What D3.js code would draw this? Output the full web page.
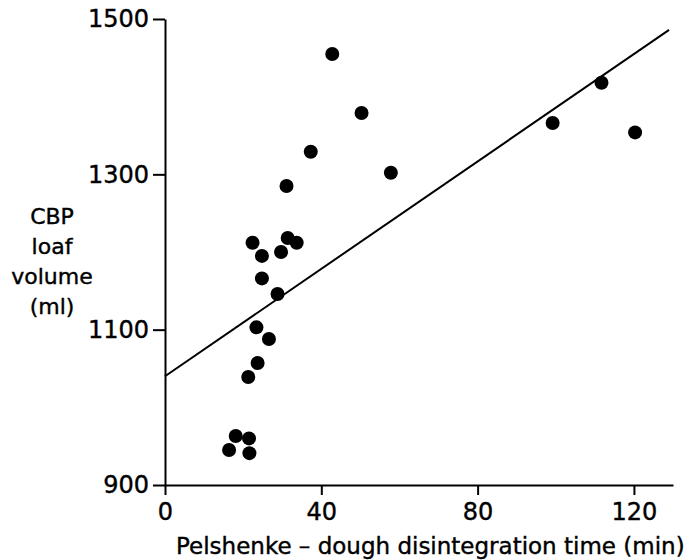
<!DOCTYPE html>
<html>
<head>
<meta charset="utf-8">
<script src="https://cdn.jsdelivr.net/npm/d3@7"></script>
<style>
  body { margin: 0; background: #fff; }
  text { font-family: "DejaVu Sans", sans-serif; fill: #000; stroke: #000; stroke-width: 0.4px; }
</style>
</head>
<body>
<div id="chart"></div>
<script>
// Pelshenke time (min) vs CBP loaf volume (ml)
var timeMin = [16.4, 18.1, 21.5, 21.6, 21.3, 23.7, 23.4, 26.6, 28.8, 24.8, 24.8, 22.4,
               29.7, 31.4, 33.7, 31.1, 37.3, 42.8, 50.3, 57.8, 99.2, 111.7, 120.3];
var loafVolume = [945, 963, 960, 941, 1039, 1057, 1103, 1088, 1146, 1166, 1195, 1212,
                  1200, 1218, 1212, 1285, 1329, 1455, 1379, 1302, 1366, 1418, 1354];

// fitted line end points
var fitTime = [0, 129];
var fitVolume = [1040, 1486];

var xTicks = [0, 40, 80, 120];
var yTicks = [900, 1100, 1300, 1500];
var yLabelLines = ["CBP", "loaf", "volume", "(ml)"];
var xLabel = "Pelshenke \u2013 dough disintegration time (min)";

var width = 693,
    height = 560;

var svg = d3.select("#chart").append("svg")
    .attr("width", width)
    .attr("height", height);

var x = d3.scaleLinear().domain([0, 130]).range([165, 673]);
var y = d3.scaleLinear().domain([900, 1500]).range([485, 19]);

// axes
var xAxis = svg.append("g")
    .attr("transform", "translate(0," + y(900) + ")")
    .call(d3.axisBottom(x).tickValues(xTicks).tickFormat(d3.format("d"))
        .tickSize(10).tickSizeOuter(0).tickPadding(8));

var yAxis = svg.append("g")
    .attr("transform", "translate(" + x(0) + ",0)")
    .call(d3.axisLeft(y).tickValues(yTicks).tickFormat(d3.format("d"))
        .tickSize(12).tickSizeOuter(0).tickPadding(4));

svg.selectAll(".domain, .tick line")
    .attr("stroke", "#000")
    .attr("stroke-width", 2);

xAxis.selectAll(".tick text")
    .style("font-size", "24px");
yAxis.selectAll(".tick text")
    .style("font-size", "24px");

// regression line
var line = d3.line()
    .x(function(d) { return x(d[0]); })
    .y(function(d) { return y(d[1]); });

svg.append("path")
    .datum(d3.zip(fitTime, fitVolume))
    .attr("d", line)
    .attr("fill", "none")
    .attr("stroke", "#000")
    .attr("stroke-width", 2);

// points
svg.selectAll("circle.pt")
    .data(d3.zip(timeMin, loafVolume))
  .enter().append("circle")
    .attr("class", "pt")
    .attr("cx", function(d) { return x(d[0]); })
    .attr("cy", function(d) { return y(d[1]); })
    .attr("r", 7)
    .attr("fill", "#000");

// y label, stacked words
svg.append("text")
    .attr("text-anchor", "middle")
    .style("font-size", "22px")
    .selectAll("tspan")
    .data(yLabelLines)
  .enter().append("tspan")
    .attr("x", 52)
    .attr("y", function(d, i) { return 224 + i * 30; })
    .text(function(d) { return d; });

// x label
svg.append("text")
    .attr("x", 176)
    .attr("y", 554)
    .style("font-size", "23px")
    .text(xLabel);
</script>
</body>
</html>
